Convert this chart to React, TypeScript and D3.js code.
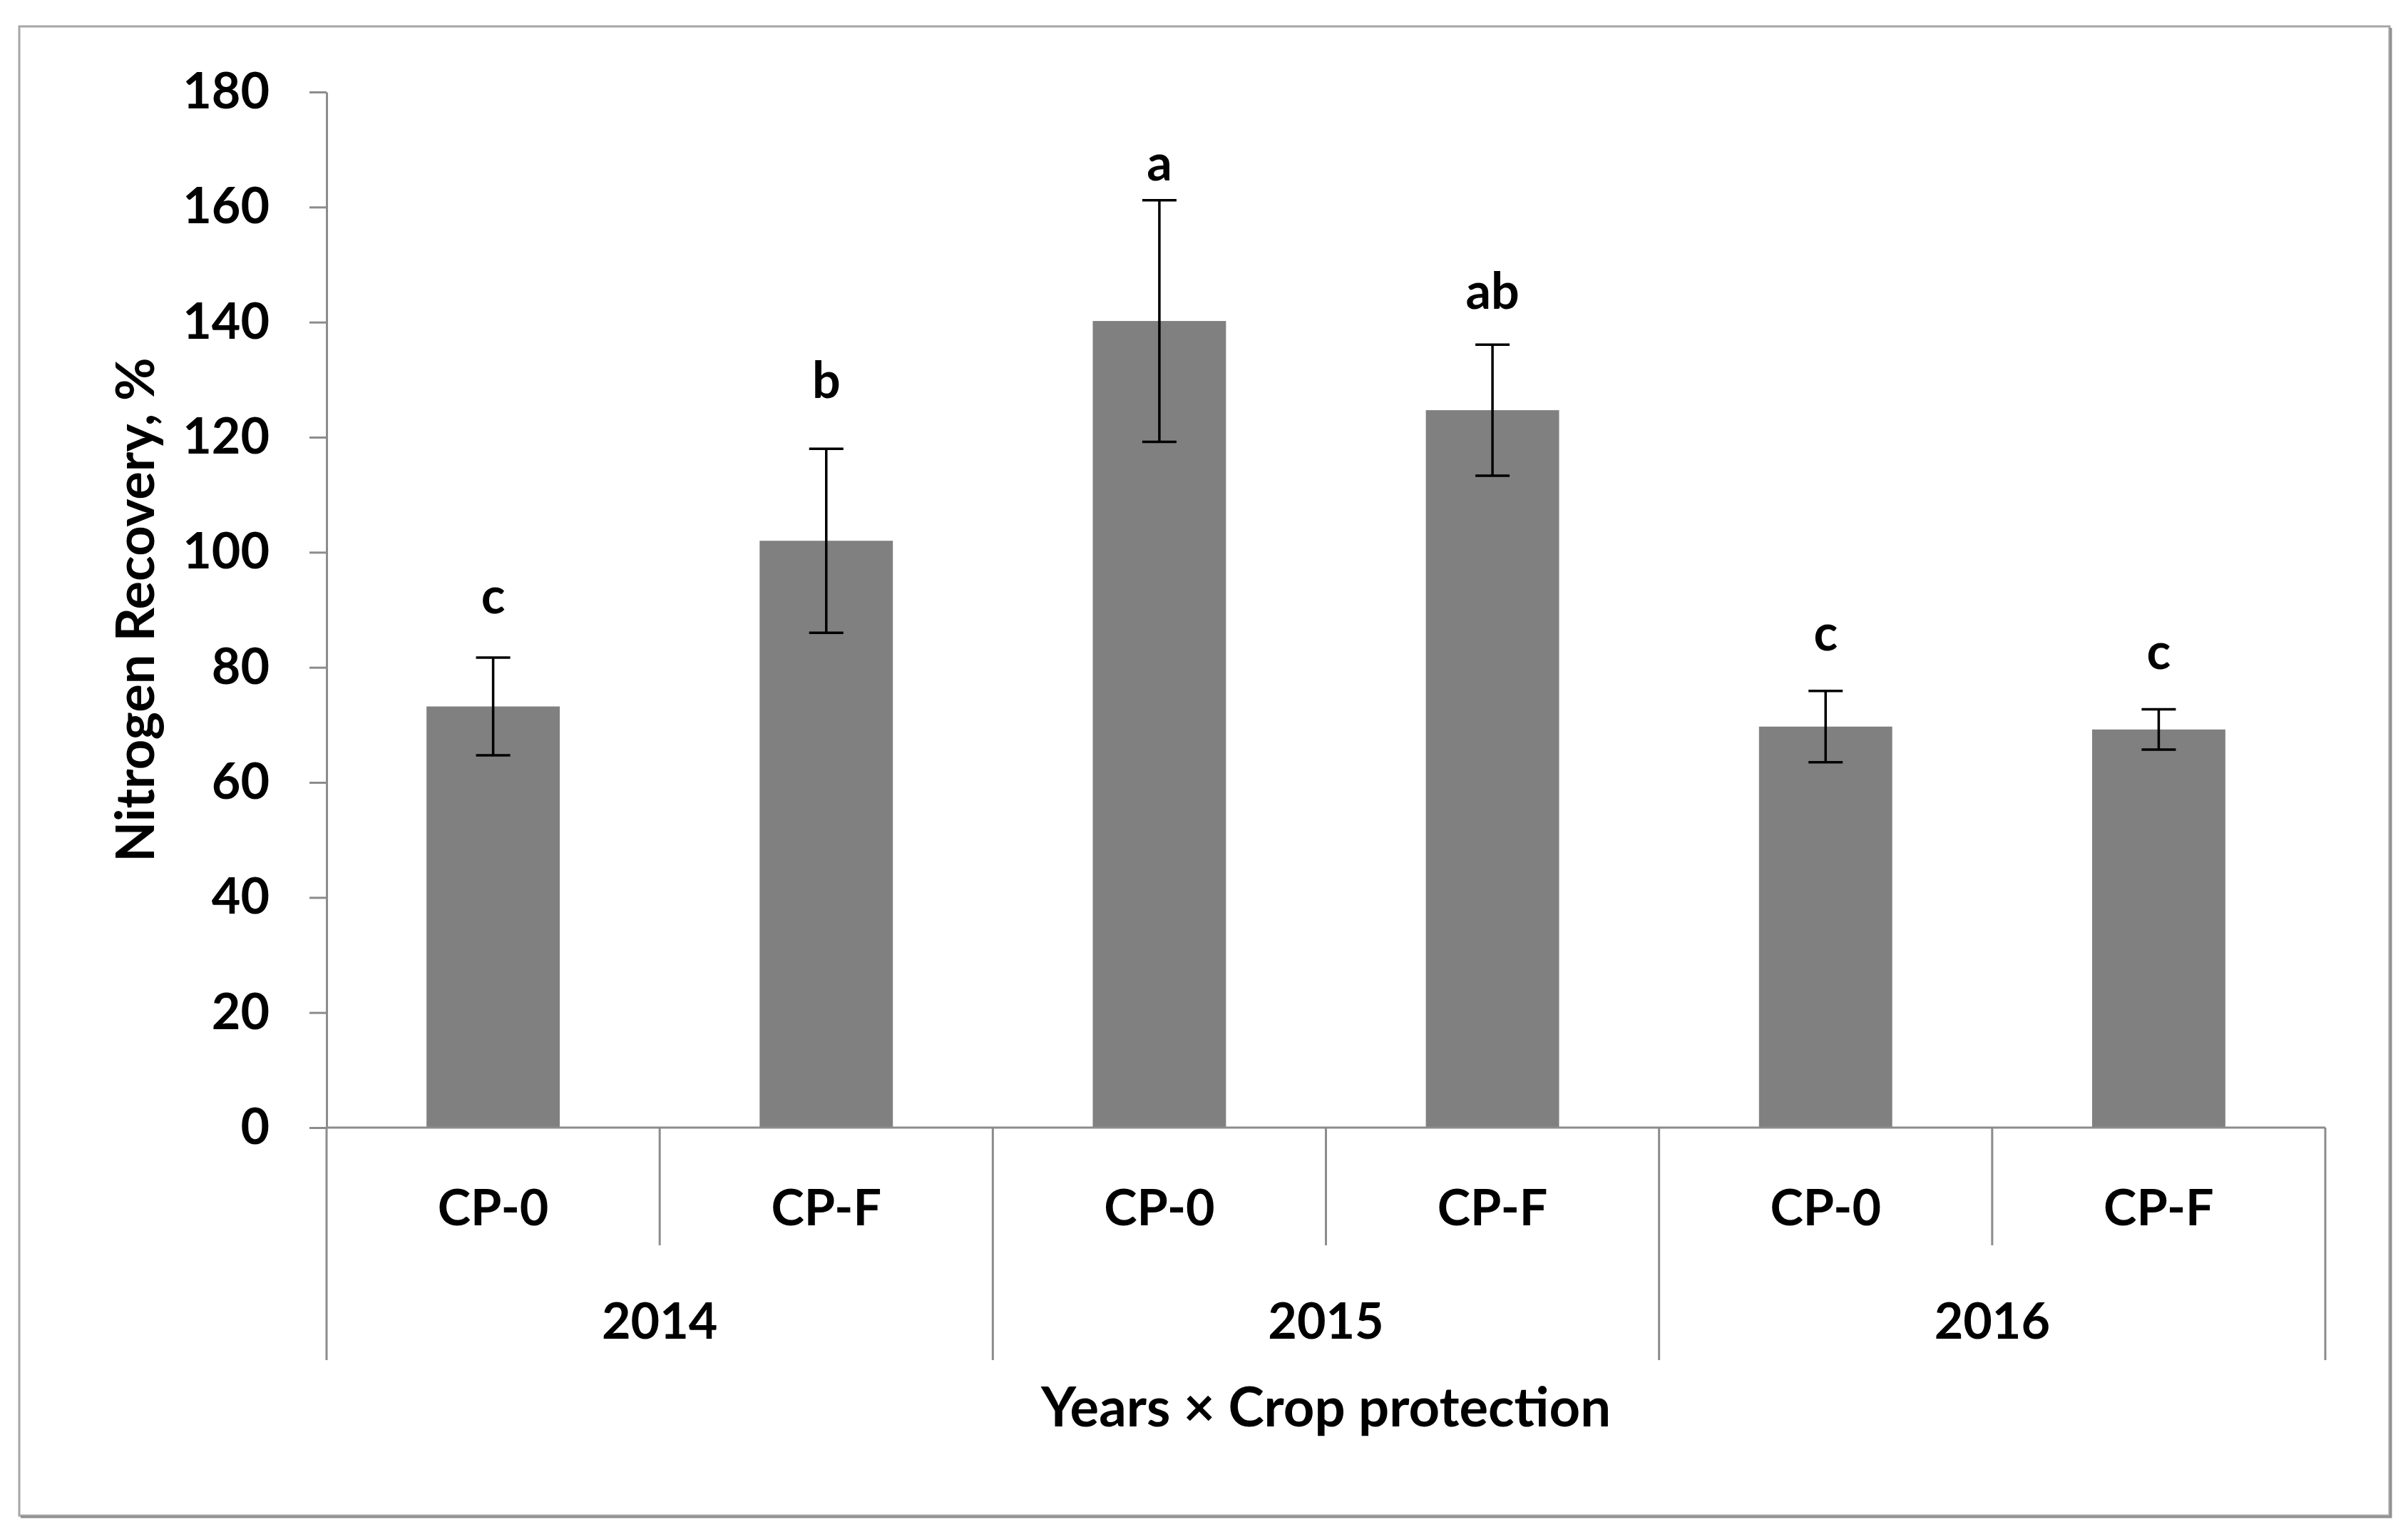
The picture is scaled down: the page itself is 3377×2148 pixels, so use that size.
import { useEffect, useRef } from "react";
import * as d3 from "d3";

const YEARS = ["2014", "2015", "2016"];
const TREATMENTS = ["CP-0", "CP-F"];
const RECOVERY = [73.2, 102.0, 140.2, 124.7, 69.7, 69.2];
const ERRORS = [8.5, 16.0, 21.0, 11.4, 6.2, 3.5];
const LETTERS = ["c", "b", "a", "ab", "c", "c"];
// where the letter sits, in % units (placed by hand in the original)
const LETTER_AT = [92.4, 129.8, 167.7, 145.3, 86.0, 82.8];
const Y_TICKS = [0, 20, 40, 60, 80, 100, 120, 140, 160, 180];

const W = 3377;
const H = 2148;
const FONT = "Lato, 'Open Sans', sans-serif";
const AXIS_GRAY = "#8c8c8c";

export default function App() {
  const svgRef = useRef<SVGSVGElement>(null);

  useEffect(() => {
    if (!svgRef.current) return;
    const svg = d3.select(svgRef.current);
    svg.selectAll("*").remove();

    const left = 458;
    const right = 3261;
    const top = 129;
    const bottom = 1581;

    // frame
    svg.append("rect")
      .attr("x", 27).attr("y", 37)
      .attr("width", 3324).attr("height", 2088)
      .attr("fill", "#fff")
      .attr("stroke", "#a6a6a6")
      .attr("stroke-width", 3);
    svg.append("path")
      .attr("d", `M3353,39 V2127 H29`)
      .attr("fill", "none")
      .attr("stroke", "#8f8f8f")
      .attr("stroke-width", 3);

    const keys = YEARS.flatMap((yr) => TREATMENTS.map((t) => `${yr}|${t}`));
    const x = d3.scaleBand<string>().domain(keys).range([left, right]);
    const yearX = d3.scaleBand<string>().domain(YEARS).range([left, right]);
    const y = d3.scaleLinear().domain([0, 180]).range([bottom, top]);

    const bw = x.bandwidth() * 0.4;

    // y axis
    svg.append("g")
      .attr("transform", `translate(${left},0)`)
      .call(d3.axisLeft(y).tickValues(Y_TICKS).tickSize(24).tickSizeOuter(0).tickPadding(56))
      .call((g) => g.select(".domain").attr("stroke", AXIS_GRAY).attr("stroke-width", 3))
      .call((g) => g.selectAll(".tick line").attr("stroke", AXIS_GRAY).attr("stroke-width", 3))
      .call((g) => g.selectAll(".tick text")
        .attr("fill", "#000")
        .attr("font-size", 70)
        .attr("font-weight", 700)
        .attr("font-family", FONT));

    // bars
    svg.append("g").selectAll("rect")
      .data(RECOVERY)
      .join("rect")
      .attr("x", (_, i) => x(keys[i])! + (x.bandwidth() - bw) / 2)
      .attr("y", (d) => y(d))
      .attr("width", bw)
      .attr("height", (d) => y(0) - y(d))
      .attr("fill", "#808080");

    // error bars
    const cap = 24;
    const eb = svg.append("g").attr("stroke", "#000").attr("stroke-width", 3.5);
    RECOVERY.forEach((v, i) => {
      const cx = x(keys[i])! + x.bandwidth() / 2;
      const hi = y(v + ERRORS[i]);
      const lo = y(v - ERRORS[i]);
      eb.append("line").attr("x1", cx).attr("x2", cx).attr("y1", hi).attr("y2", lo);
      eb.append("line").attr("x1", cx - cap).attr("x2", cx + cap).attr("y1", hi).attr("y2", hi);
      eb.append("line").attr("x1", cx - cap).attr("x2", cx + cap).attr("y1", lo).attr("y2", lo);
    });

    // significance letters
    svg.append("g").selectAll("text")
      .data(LETTERS)
      .join("text")
      .attr("x", (_, i) => x(keys[i])! + x.bandwidth() / 2)
      .attr("y", (_, i) => y(LETTER_AT[i]))
      .attr("dy", "0.35em")
      .attr("text-anchor", "middle")
      .attr("font-size", 70)
      .attr("font-weight", 700)
      .attr("font-family", FONT)
      .text((d) => d);

    // x axis line + separators
    const ax = svg.append("g").attr("stroke", AXIS_GRAY).attr("stroke-width", 3);
    ax.append("line").attr("x1", left).attr("x2", right).attr("y1", bottom).attr("y2", bottom);
    keys.forEach((k, i) => {
      if (i % 2 === 1) {
        const xx = x(k)!;
        ax.append("line").attr("x1", xx).attr("x2", xx).attr("y1", bottom).attr("y2", 1746);
      }
    });
    [...YEARS.map((yr) => yearX(yr)!), right].forEach((xx) => {
      ax.append("line").attr("x1", xx).attr("x2", xx).attr("y1", bottom).attr("y2", 1907);
    });

    // category labels
    svg.append("g").selectAll("text")
      .data(keys)
      .join("text")
      .attr("x", (k) => x(k)! + x.bandwidth() / 2)
      .attr("y", 1693)
      .attr("dy", "0.35em")
      .attr("text-anchor", "middle")
      .attr("font-size", 70)
      .attr("font-weight", 700)
      .attr("font-family", FONT)
      .text((k) => k.split("|")[1]);

    svg.append("g").selectAll("text")
      .data(YEARS)
      .join("text")
      .attr("x", (yr) => yearX(yr)! + yearX.bandwidth() / 2)
      .attr("y", 1852)
      .attr("dy", "0.35em")
      .attr("text-anchor", "middle")
      .attr("font-size", 70)
      .attr("font-weight", 700)
      .attr("font-family", FONT)
      .text((d) => d);

    // axis titles
    svg.append("text")
      .attr("x", (left + right) / 2)
      .attr("y", 1973)
      .attr("dy", "0.35em")
      .attr("text-anchor", "middle")
      .attr("font-size", 76)
      .attr("font-weight", 700)
      .attr("font-family", FONT)
      .text("Years × Crop protection");

    svg.append("text")
      .attr("transform", `translate(190,${(top + bottom) / 2}) rotate(-90)`)
      .attr("dy", "0.35em")
      .attr("text-anchor", "middle")
      .attr("font-size", 74)
      .attr("font-weight", 700)
      .attr("font-family", FONT)
      .text("Nitrogen Recovery, %");
  }, []);

  return (
    <svg
      ref={svgRef}
      width={W}
      height={H}
      style={{ position: "fixed", left: 0, top: 0, background: "#fff" }}
    />
  );
}
